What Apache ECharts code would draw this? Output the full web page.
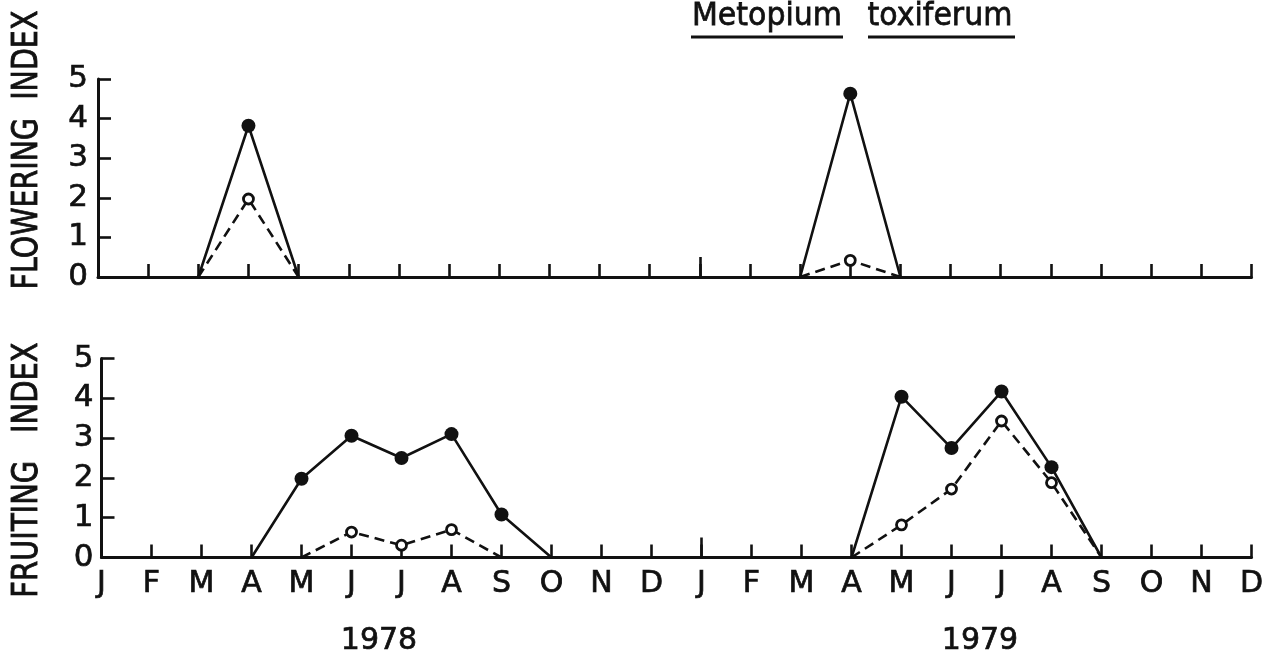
<!DOCTYPE html>
<html>
<head>
<meta charset="utf-8">
<title>Metopium toxiferum</title>
<script src="https://cdn.jsdelivr.net/npm/echarts@6/dist/echarts.min.js"></script>
<style>
  html, body { margin: 0; padding: 0; background: #fff; }
  #chart { width: 1271px; height: 658px; }
</style>
</head>
<body>
<div id="chart"></div>
<script>
// Months across two years (1978, 1979)
const months = ['J','F','M','A','M','J','J','A','S','O','N','D',
                'J','F','M','A','M','J','J','A','S','O','N','D'];
const yTicks = [0, 1, 2, 3, 4, 5];
const years = ['1978', '1979'];

// '-' marks months with no plotted value
const floweringSolid = ['-','-',0,3.82,0,'-','-','-','-','-','-','-',
                        '-','-',0,4.63,0,'-','-','-','-','-','-','-'];
const floweringOpen  = ['-','-',0,1.97,0,'-','-','-','-','-','-','-',
                        '-','-',0,0.42,0,'-','-','-','-','-','-','-'];
const fruitingSolid  = ['-','-','-',0,1.98,3.06,2.5,3.1,1.08,0,'-','-',
                        '-','-','-',0,4.04,2.75,4.17,2.27,0,'-','-','-'];
const fruitingOpen   = ['-','-','-','-',0,0.64,0.31,0.7,0,'-','-','-',
                        '-','-','-',0,0.82,1.72,3.43,1.88,0,'-','-','-'];

const INK = '#111';
const FONT = 'DejaVu Sans';
const STROKE = 0.7;   // slight outline to give the lettering a heavier pen weight

// zero points sit on the axis without a marker
function pts(arr) {
  return arr.map(v => v === 0 ? { value: 0, symbol: 'none' } : v);
}

function solidSeries(arr, gi) {
  return {
    type: 'line', xAxisIndex: gi * 2, yAxisIndex: gi, data: pts(arr),
    symbol: 'circle', symbolSize: 14, showSymbol: true,
    itemStyle: { color: INK, borderWidth: 0 },
    lineStyle: { color: INK, width: 2.6, type: 'solid' },
    connectNulls: false, animation: false, z: 3
  };
}
function openSeries(arr, gi) {
  return {
    type: 'line', xAxisIndex: gi * 2, yAxisIndex: gi, data: pts(arr),
    symbol: 'circle', symbolSize: 10, showSymbol: true,
    itemStyle: { color: '#fff', borderColor: INK, borderWidth: 2.8 },
    lineStyle: { color: INK, width: 2.6, type: [10, 6] },
    connectNulls: false, animation: false, z: 4
  };
}

function xAxes(gi, showLabels) {
  return [
    {
      type: 'category', gridIndex: gi, data: months, boundaryGap: false,
      axisLine: { show: true, lineStyle: { color: INK, width: 3 } },
      axisTick: { show: true, inside: true, length: 13, interval: 0,
                  lineStyle: { color: INK, width: 2.6 } },
      axisLabel: { show: showLabels, interval: 0, margin: 12, color: INK,
                   fontFamily: FONT, fontSize: 30,
                   textBorderColor: INK, textBorderWidth: STROKE },
      splitLine: { show: false }
    },
    {
      // taller tick at the start of the second year
      type: 'category', gridIndex: gi, data: months, boundaryGap: false,
      position: 'bottom',
      axisLine: { show: false },
      axisTick: { show: true, inside: true, length: 20,
                  interval: (i) => i === 12,
                  lineStyle: { color: INK, width: 2.6 } },
      axisLabel: { show: false },
      splitLine: { show: false }
    }
  ];
}

function yAxis(gi, margin) {
  return {
    type: 'value', gridIndex: gi, min: 0, max: 5, interval: 1,
    axisLine: { show: true, lineStyle: { color: INK, width: 3 } },
    axisTick: { show: true, inside: true, length: 13,
                lineStyle: { color: INK, width: 2.6 } },
    axisLabel: { margin: margin, color: INK, fontFamily: FONT, fontSize: 31,
                 textBorderColor: INK, textBorderWidth: STROKE,
                 formatter: v => String(yTicks[v]) },
    splitLine: { show: false }
  };
}

const chart = echarts.init(document.getElementById('chart'), null, { renderer: 'canvas' });

const textStyle = (t, size) => ({ text: t, fill: INK, font: size + 'px "' + FONT + '"',
                                  stroke: INK, lineWidth: STROKE,
                                  align: 'center', verticalAlign: 'middle' });

chart.setOption({
  backgroundColor: '#fff',
  animation: false,
  grid: [
    { left: 98, right: 19.5, top: 79, height: 198 },
    { left: 101.5, right: 19.5, top: 358.5, height: 199 }
  ],
  xAxis: [...xAxes(0, false), ...xAxes(1, true)],
  yAxis: [yAxis(0, 10), yAxis(1, 8)],
  series: [
    solidSeries(floweringSolid, 0),
    openSeries(floweringOpen, 0),
    solidSeries(fruitingSolid, 1),
    openSeries(fruitingOpen, 1)
  ],
  graphic: [
    // species name, underlined word by word
    { type: 'text', x: 767, y: 17, scaleY: 1.08, style: textStyle('Metopium', 30) },
    { type: 'text', x: 940, y: 17, scaleY: 1.08, style: textStyle('toxiferum', 30) },
    { type: 'line', shape: { x1: 691, y1: 37, x2: 843, y2: 37 },
      style: { stroke: INK, lineWidth: 3 } },
    { type: 'line', shape: { x1: 868, y1: 37, x2: 1015, y2: 37 },
      style: { stroke: INK, lineWidth: 3 } },
    // vertical axis names
    { type: 'text', x: 28, y: 150, rotation: Math.PI / 2, scaleY: 1.25,
      style: textStyle('FLOWERING  INDEX', 28.5) },
    { type: 'text', x: 28, y: 470, rotation: Math.PI / 2, scaleY: 1.25,
      style: textStyle('FRUITING   INDEX', 29) },
    // year labels
    { type: 'text', x: 379, y: 641, style: textStyle(years[0], 30) },
    { type: 'text', x: 980, y: 641, style: textStyle(years[1], 30) }
  ]
});
</script>
</body>
</html>
